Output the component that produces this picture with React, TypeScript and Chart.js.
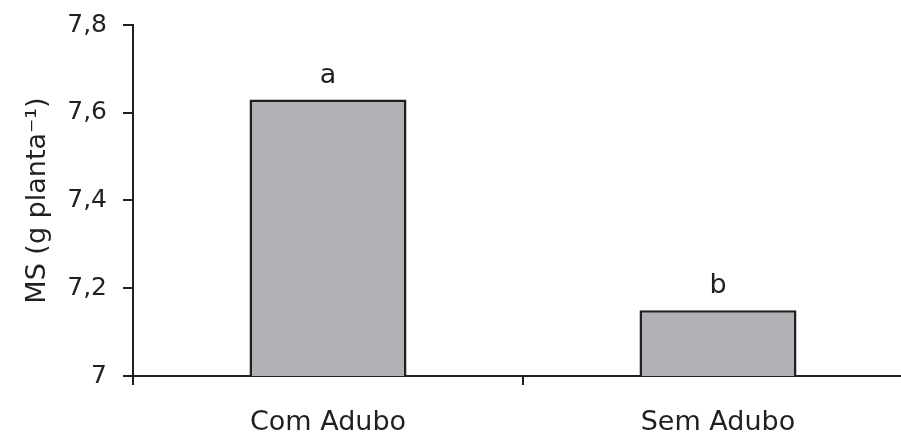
import React, { useEffect, useRef } from "react";
import { Chart, registerables } from "chart.js";

Chart.register(...registerables);

const categories = ["Com Adubo", "Sem Adubo"];
const msValues = [7.63, 7.15];
const letters = ["a", "b"];
const yTicks = [7, 7.2, 7.4, 7.6, 7.8];
const yTitle = "MS (g planta\u207B\u00B9)";

const FONT = "'DejaVu Sans', 'Liberation Sans', sans-serif";
const INK = "#231f20";
const BAR = "#b1b2b5";

const letterPlugin = {
  id: "letters",
  afterDatasetsDraw(chart: any) {
    const meta = chart.getDatasetMeta(0);
    const ctx = chart.ctx;
    ctx.save();
    ctx.font = `27px ${FONT}`;
    ctx.fillStyle = INK;
    ctx.textAlign = "center";
    ctx.textBaseline = "alphabetic";
    meta.data.forEach((bar: any, i: number) => {
      ctx.fillText(letters[i], bar.x, bar.y - 17);
    });
    ctx.restore();
  },
};

export default function App() {
  const ref = useRef<HTMLCanvasElement>(null);
  useEffect(() => {
    if (!ref.current) return;
    const chart = new Chart(ref.current, {
      type: "bar",
      data: {
        labels: categories,
        datasets: [
          {
            data: msValues,
            backgroundColor: BAR,
            borderColor: INK,
            borderWidth: 2.5,
            borderSkipped: false,
            categoryPercentage: 1,
            barPercentage: 0.4026,
          },
        ],
      },
      options: {
        responsive: false,
        animation: false,
        devicePixelRatio: 1,
        layout: { padding: { left: 22, top: 25, right: 7, bottom: 0 } },
        plugins: {
          legend: { display: false },
          tooltip: { enabled: false },
        },
        scales: {
          x: {
            type: "category",
            offset: true,
            grid: {
              offset: true,
              drawOnChartArea: false,
              drawTicks: true,
              tickLength: 9,
              color: INK,
              lineWidth: 2,
            },
            border: { color: INK, width: 2 },
            ticks: {
              color: INK,
              font: { family: FONT, size: 27 },
              padding: 22,
              maxRotation: 0,
            },
            afterFit: (s: any) => {
              s.height = 59;
              s.paddingLeft = 0;
              s.paddingRight = 0;
            },
          },
          y: {
            min: 7,
            max: 7.8,
            afterBuildTicks: (s: any) => {
              s.ticks = yTicks.map((v) => ({ value: v }));
            },
            grid: {
              drawOnChartArea: false,
              drawTicks: true,
              tickLength: 10,
              color: INK,
              lineWidth: 2,
            },
            border: { color: INK, width: 2 },
            ticks: {
              color: INK,
              font: { family: FONT, size: 25 },
              padding: 16,
              callback: (v: any) => {
                const n = Number(v);
                return Number.isInteger(n) ? String(n) : n.toFixed(1).replace(".", ",");
              },
            },
            title: {
              display: true,
              text: yTitle,
              color: INK,
              font: { family: FONT, size: 27 },
              padding: { top: 0, bottom: 0 },
            },
            afterFit: (s: any) => {
              s.width = 111;
              s.paddingTop = 0;
              s.paddingBottom = 0;
            },
          },
        },
      },
      plugins: [letterPlugin],
    });
    return () => chart.destroy();
  }, []);

  return (
    <div
      style={{
        position: "fixed",
        left: 0,
        top: 0,
        width: 901,
        height: 435,
        overflow: "hidden",
        background: "#fff",
      }}
    >
      <canvas ref={ref} width={920} height={435} style={{ display: "block" }} />
    </div>
  );
}
